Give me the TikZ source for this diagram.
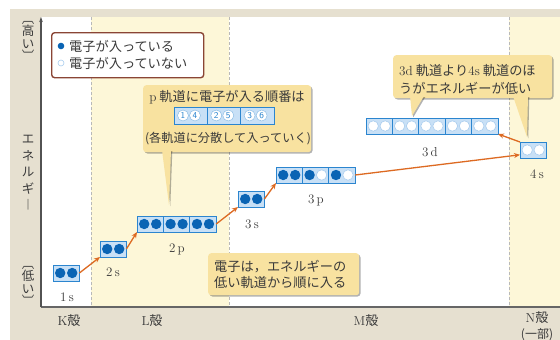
\documentclass[tikz,border=0pt]{standalone}
\usepackage{fontspec}
\newfontfamily\jp{Noto Sans CJK JP}
\usetikzlibrary{arrows.meta,shadows,calc}
\definecolor{bg}{HTML}{E6E0D0}
\definecolor{lightyel}{HTML}{FDF7D8}
\definecolor{callout}{HTML}{F8E2A0}
\definecolor{orbfill}{HTML}{C8E0F6}
\definecolor{orbline}{HTML}{2B85CF}
\definecolor{dotblue}{HTML}{0A64B4}
\definecolor{emptyline}{HTML}{A8CCEE}
\definecolor{arr}{HTML}{DD6A22}
\definecolor{legline}{HTML}{8A4535}
\definecolor{txt}{HTML}{3A3A3A}
\definecolor{axiscol}{HTML}{666666}
\newcommand\jpf{\jp\fontsize{13.2}{16}\selectfont}
\newcommand\orbbox[5]{%
  \node[orb, minimum width=#4*26.4pt] (#1) at (#2,#3) {};
  \ifnum#4>1
    \foreach \i in {2,...,#4}{\draw[orbline, line width=0.7pt] ($(#1.north west)+(\i*26.4-26.4,0)$) -- ++(0,16);}
  \fi
  \foreach \s [count=\k from 0] in {#5}{%
    \pgfmathsetmacro\cx{#2+26.4*int(\k/2)+7.2+12*mod(\k,2)}
    \path[\s] (\cx,#3+8) circle[radius=5.2pt];
  }%
}
\begin{document}
\begin{tikzpicture}[x=1pt,y=-1pt,
  orb/.style={draw=orbline, fill=orbfill, line width=0.9pt, minimum height=16pt, inner sep=0pt, outer sep=0pt, anchor=north west},
  dfull/.style={fill=dotblue},
  dempty/.style={fill=white, draw=emptyline, line width=0.6pt},
  orarrow/.style={draw=arr, line width=1.3pt, -{Stealth[length=6pt,width=5pt]}},
  jt/.style={font=\jpf, text=txt, inner sep=0pt},
  lab/.style={font=\fontsize{13}{15}\selectfont, text=txt, inner sep=0pt},
  callbox/.style={fill=callout, rounded corners=3pt, inner sep=0pt, anchor=north west,
    drop shadow={shadow xshift=1.3pt, shadow yshift=-1.3pt, fill=black, opacity=0.3}},
  tailsh/.style={fill=black, opacity=0.3},
  numc/.style={circle, fill=white, draw=orbline!60, line width=0.4pt, minimum size=11pt, inner sep=0pt, font=\sffamily\fontsize{9}{9}\selectfont, text=orbline},
  vlab/.style={font=\jp\fontsize{12.5}{13}\selectfont, text=txt, align=center, inner sep=0pt},
  shell/.style={font=\fontsize{13}{15}\selectfont, text=txt, inner sep=0pt}]
\useasboundingbox (0,0) rectangle (560,340);
% backgrounds
\fill[white] (0,0) rectangle (560,340);
\fill[bg] (10,9) rectangle (560,340);
\fill[white] (41,17) rectangle (560,307);
\fill[lightyel] (91,17) rectangle (229,307);
\fill[lightyel] (509,17) rectangle (560,307);
\foreach \xx in {91,229,509}
  \draw[gray!55, line width=0.6pt, dash pattern=on 3pt off 2pt] (\xx,17) -- (\xx,307);
% axes
\coordinate (origin) at (41,307);
\coordinate (ytop) at (41,17);
\coordinate (xend) at (560,307);
\draw[axiscol, line width=1.6pt] (origin) -- (xend);
\draw[axiscol!80!black, line width=1.2pt, -{Stealth[length=5pt,width=3.5pt]}] (origin) -- (ytop);
% vertical axis labels
\node[vlab, font=\jp\fontsize{12.5}{12.5}\selectfont] (hi) at (28,41) {︹\\高\\い\\︺};
\node[vlab, font=\jp\fontsize{12.5}{16.5}\selectfont] (en) at (28,173) {エ\\ネ\\ル\\ギ\\︱};
\node[vlab, font=\jp\fontsize{12.5}{12.5}\selectfont] (lo) at (28,286) {︹\\低\\い\\︺};
% shell labels
\node[shell] (K) at (69,321) {K{\jp 殻}};
\node[shell] (L) at (152,321) {L{\jp 殻}};
\node[shell] (M) at (366,321) {M{\jp 殻}};
\node[shell] (N) at (537,318) {N{\jp 殻}};
\node[shell, font=\jp\fontsize{12}{14}\selectfont] (Nb) at (537,335) {(一部)};
% legend
\node[draw=legline, line width=1.4pt, rounded corners=3pt, fill=white, minimum width=152pt, minimum height=45pt, anchor=north west, inner sep=0pt] (leg) at (51,32) {};
\fill[dotblue] (61,46) circle[radius=3.3pt];
\draw[emptyline, fill=white, line width=0.6pt] (61,63) circle[radius=3pt];
\node[jt, anchor=west] (leg1) at (69,46) {電子が入っている};
\node[jt, anchor=west] (leg2) at (69,63) {電子が入っていない};
% callout 1
\node[callbox, minimum width=168pt, minimum height=67pt] (c1) at (143,85) {};
\fill[tailsh] (163.3,151) -- (170.3,206.3) -- (172.3,151) -- cycle;
\fill[callout] (162,150) -- (169,205) -- (171,150) -- cycle;
\node[jt] (c1a) at (227,97) {{\rmfamily p} 軌道に電子が入る順番は};
\node[jt, font=\jp\fontsize{12.2}{15}\selectfont] (c1c) at (228,139) {(各軌道に分散して入っていく)};
\foreach \j/\xx in {1/174,2/207.3,3/240.6}
  \node[draw=orbline, fill=orbfill, line width=0.8pt, minimum width=33.3pt, minimum height=17pt, inner sep=0pt, outer sep=0pt, anchor=north west] (ob\j) at (\xx,107) {};
\node[numc] (n1) at (183,115.5) {1};
\node[numc] (n4) at (195,115.5) {4};
\node[numc] (n2) at (216.3,115.5) {2};
\node[numc] (n5) at (228.3,115.5) {5};
\node[numc] (n3) at (249.6,115.5) {3};
\node[numc] (n6) at (261.6,115.5) {6};
% callout 2
\node[callbox, minimum width=159pt, minimum height=43pt] (c2) at (393,55) {};
\fill[tailsh] (411.3,97) -- (413.3,117.3) -- (425.3,97) -- cycle;
\fill[callout] (410,96) -- (412,116) -- (424,96) -- cycle;
\fill[tailsh] (514.3,97) -- (528.3,138.3) -- (529.3,97) -- cycle;
\fill[callout] (513,96) -- (527,137) -- (528,96) -- cycle;
\node[jt, anchor=west] (c2a) at (399,71) {{\rmfamily 3d} 軌道より{\rmfamily 4s} 軌道のほ};
\node[jt, anchor=west] (c2b) at (399,88) {うがエネルギーが低い};
% callout 3
\node[callbox, minimum width=151pt, minimum height=42pt] (c3) at (208,253) {};
\node[jt, anchor=west] (c3a) at (214,267) {電子は，エネルギーの};
\node[jt, anchor=west] (c3b) at (214,283) {低い軌道から順に入る};
% orbitals
\orbbox{o1s}{53}{265}{1}{dfull,dfull}
\orbbox{o2s}{100}{241}{1}{dfull,dfull}
\orbbox{o2p}{137}{216}{3}{dfull,dfull,dfull,dfull,dfull,dfull}
\orbbox{o3s}{238}{191}{1}{dfull,dfull}
\orbbox{o3p}{276}{167}{3}{dfull,dfull,dfull,dempty,dfull,dempty}
\orbbox{o3d}{366}{118}{5}{dempty,dempty,dempty,dempty,dempty,dempty,dempty,dempty,dempty,dempty}
\orbbox{o4s}{520}{142}{1}{dempty,dempty}
% orbital labels
\node[lab] (l1s) at (67,297) {1\,s};
\node[lab] (l2s) at (113,272) {2\,s};
\node[lab] (l2p) at (177,249) {2\,p};
\node[lab] (l3s) at (252,224) {3\,s};
\node[lab] (l3p) at (316,200) {3\,p};
\node[lab] (l3d) at (430,152) {3\,d};
\node[lab] (l4s) at (537,174) {4\,s};
% arrows
\draw[orarrow] (o1s.east) -- (o2s.south west);
\draw[orarrow] (o2s.east) -- (o2p.south west);
\draw[orarrow] (o2p.east) -- (o3s.south west);
\draw[orarrow] (o3s.east) -- (o3p.south west);
\draw[orarrow] (o3p.east) -- ($(o4s.west)!0.6!(o4s.south west)$);
\draw[orarrow] (o4s.north west) -- (o3d.south east);
\end{tikzpicture}
\end{document}
